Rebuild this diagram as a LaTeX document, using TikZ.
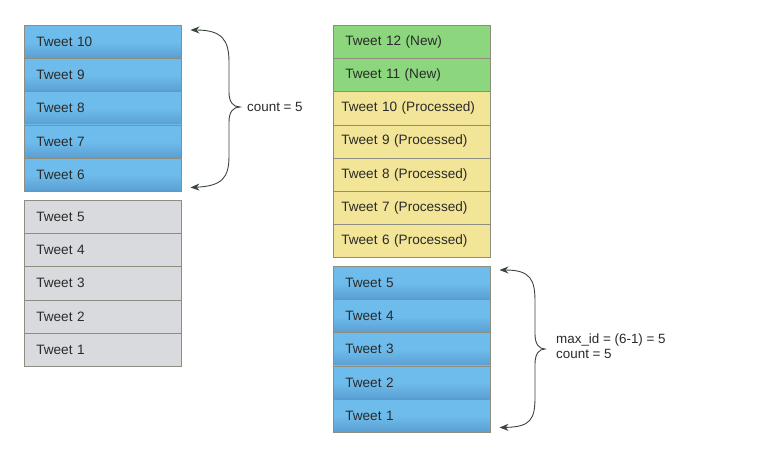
\documentclass[tikz,border=0pt]{standalone}
\usepackage{fontspec}
\setmainfont{Liberation Sans}
\usetikzlibrary{arrows.meta}
\begin{document}
\begin{tikzpicture}[x=1pt,y=-1pt,
  row/.style={anchor=north west, minimum height=33.2pt, text width=133pt, align=left,
    inner xsep=12pt, inner ysep=0pt, draw=rowline, line width=0.5pt,
    font=\fontsize{13.6}{15}\selectfont, text=txt},
  bluerow/.style={row, top color=blueT, bottom color=blueB, middle color=blueT},
  greyrow/.style={row, fill=greyF},
  greenrow/.style={row, fill=greenF},
  yellowrow/.style={row, fill=yellowF, inner xsep=8pt, text width=141pt},
  bracepath/.style={draw=braceC, line width=0.9pt, {Stealth[length=9pt,width=7pt]}-{Stealth[length=9pt,width=7pt]}},
  lbl/.style={anchor=west, font=\fontsize{13.4}{15}\selectfont, text=txt, align=left, inner sep=0pt}
]
\definecolor{blueT}{HTML}{6EBCEC}
\definecolor{blueB}{HTML}{5A9ED2}
\definecolor{greyF}{HTML}{D8DADE}
\definecolor{greenF}{HTML}{8CD77E}
\definecolor{yellowF}{HTML}{F2E597}
\definecolor{rowline}{HTML}{8E8E80}
\definecolor{txt}{HTML}{2A2A2A}
\definecolor{braceC}{HTML}{3C463C}
\useasboundingbox (0,0) rectangle (761,460);
\fill[white] (0,0) rectangle (761,460);
% left top (blue)
\foreach \i [count=\k from 0] in {10,9,8,7,6}
  \node[bluerow] (L\i) at (24,25+\k*33.2) {Tweet \i};
% left bottom (grey)
\foreach \i [count=\k from 0] in {5,4,3,2,1}
  \node[greyrow] (L\i) at (24,200+\k*33.2) {Tweet \i};
% right top
\foreach \i [count=\k from 0] in {12,11}
  \node[greenrow] (R\i) at (333,25+\k*33.2) {Tweet \i\ (New)};
\foreach \i [count=\k from 2] in {10,9,8,7,6}
  \node[yellowrow] (R\i) at (333,25+\k*33.2) {Tweet \i\ (Processed)};
% right bottom
\foreach \i [count=\k from 0] in {5,4,3,2,1}
  \node[bluerow] (R\i) at (333,266+\k*33.2) {Tweet \i};
% left brace
\coordinate (la) at ([xshift=9pt,yshift=-5pt]L10.north east);
\coordinate (lb) at ([xshift=9pt,yshift=4pt]L6.south east);
\coordinate (lt) at (240,107);
\draw[bracepath] (la) .. controls (222,30) and (229,40) .. (229,62) -- (229,92)
  .. controls (229,102) and (233,107) .. (lt)
  .. controls (233,107) and (229,112) .. (229,122) -- (229,156)
  .. controls (229,178) and (222,186) .. (lb);
\node[lbl] (lc) at (247,107) {count = 5};
% right brace
\coordinate (ra) at ([xshift=9pt,yshift=-4pt]R5.north east);
\coordinate (rb) at ([xshift=9pt,yshift=5pt]R1.south east);
\coordinate (rt) at (545,349);
\draw[bracepath] (ra) .. controls (531,270) and (535,280) .. (535,302) -- (535,334)
  .. controls (535,344) and (539,349) .. (rt)
  .. controls (539,349) and (535,354) .. (535,364) -- (535,397)
  .. controls (535,419) and (531,427) .. (rb);
\node[lbl] (rc) at (556,346) {max\_id = (6-1) = 5\\count = 5};
\end{tikzpicture}
\end{document}
